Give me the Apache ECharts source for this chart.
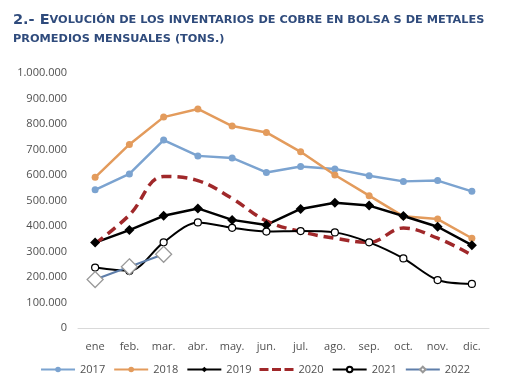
<!DOCTYPE html>
<html><head><meta charset="utf-8">
<script src="https://cdn.jsdelivr.net/npm/echarts@6/dist/echarts.min.js"></script>
<style>html,body{margin:0;padding:0;background:#fff}#c{width:510px;height:382px}</style>
</head><body><div id="c"></div>
<script>
const categories = ['ene','feb.','mar.','abr.','may.','jun.','jul.','ago.','sep.','oct.','nov.','dic.'];
const s2017 = [542,604,737,675,667,610,633,624,597,575,578,536].map(v=>v*1000);
const s2018 = [591,720,827,859,792,767,691,600,519,438,427,352].map(v=>v*1000);
const s2019 = [335,384,440,469,424,404,467,491,480,439,397,325].map(v=>v*1000);
const s2020 = [330,443,594,578,508,420,378,352,336,392,352,286].map(v=>v*1000);
const s2021 = [237,224,336,414,393,378,380,375,336,273,188,173].map(v=>v*1000);
const s2022 = [190,240,289];
const s2022v = s2022.map(v=>v*1000);
const yTicks = [0,100000,200000,300000,400000,500000,600000,700000,800000,900000,1000000];

const chart = echarts.init(document.getElementById('c'), null, {renderer:'canvas'});
const fmt = v => v===0 ? '0' : String(v).replace(/\B(?=(\d{3})+(?!\d))/g,'.');
const titleFont = 'DejaVu Sans';
chart.setOption({
  animation:false,
  title:{
    left:8, top:6,
    text:'{a|2.- }{b|E}{c|VOLUCIÓN DE LOS INVENTARIOS DE COBRE EN BOLSA S DE METALES}\n{c|PROMEDIOS MENSUALES (TONS.)}',
    textStyle:{
      rich:{
        a:{fontFamily:titleFont,fontWeight:'bold',fontSize:14.5,color:'#2F4B7C',lineHeight:19},
        b:{fontFamily:titleFont,fontWeight:'bold',fontSize:14.5,color:'#2F4B7C',lineHeight:19},
        c:{fontFamily:titleFont,fontWeight:'bold',fontSize:11.3,color:'#2F4B7C',lineHeight:19}
      }
    }
  },
  grid:{left:78, right:21, top:73, bottom:54, containLabel:false},
  xAxis:{
    type:'category', data:categories, boundaryGap:true,
    axisLine:{lineStyle:{color:'#d9d9d9'}}, axisTick:{show:false},
    axisLabel:{color:'#505050', fontFamily:'Open Sans', fontSize:11, margin:13}
  },
  yAxis:{
    type:'value', min:0, max:1000000, interval:100000,
    splitLine:{show:false}, axisLine:{show:false}, axisTick:{show:false},
    axisLabel:{color:'#505050', fontFamily:'Open Sans', fontSize:11, margin:11, formatter:fmt}
  },
  legend:{
    bottom:2, left:'center', itemWidth:34, itemHeight:7, itemGap:8,
    textStyle:{color:'#505050', fontFamily:'Open Sans', fontSize:11},
    data:['2017','2018','2019',
      {name:'2020', icon:'path://M0,0h9v3h-9z M12.5,0h9v3h-9z M25,0h9v3h-9z', itemStyle:{color:'#A0282A'}},
      '2021','2022']
  },
  series:[
    {name:'2017', type:'line', data:s2017, symbol:'circle', symbolSize:7,
     lineStyle:{color:'#7BA3D0', width:2.5}, itemStyle:{color:'#7BA3D0'}},
    {name:'2018', type:'line', data:s2018, symbol:'circle', symbolSize:7,
     lineStyle:{color:'#E39B5C', width:2.5}, itemStyle:{color:'#E39B5C'}},
    {name:'2019', type:'line', data:s2019, symbol:'diamond', symbolSize:10,
     lineStyle:{color:'#000', width:2.5}, itemStyle:{color:'#000'}},
    {name:'2020', type:'line', data:s2020, smooth:0.4, symbol:'none',
     lineStyle:{color:'#A0282A', width:3.5, type:[10,6]}, itemStyle:{color:'#A0282A'}},
    {name:'2021', type:'line', data:s2021, smooth:0.3, symbol:'circle', symbolSize:7,
     lineStyle:{color:'#000', width:2}, itemStyle:{color:'#fff', borderColor:'#000', borderWidth:1.2}},
    {name:'2022', type:'line', data:s2022v, symbol:'diamond', symbolSize:16,
     lineStyle:{color:'#5E7EAA', width:2}, itemStyle:{color:'#fff', borderColor:'#999', borderWidth:1.3}}
  ]
});
</script></body></html>
